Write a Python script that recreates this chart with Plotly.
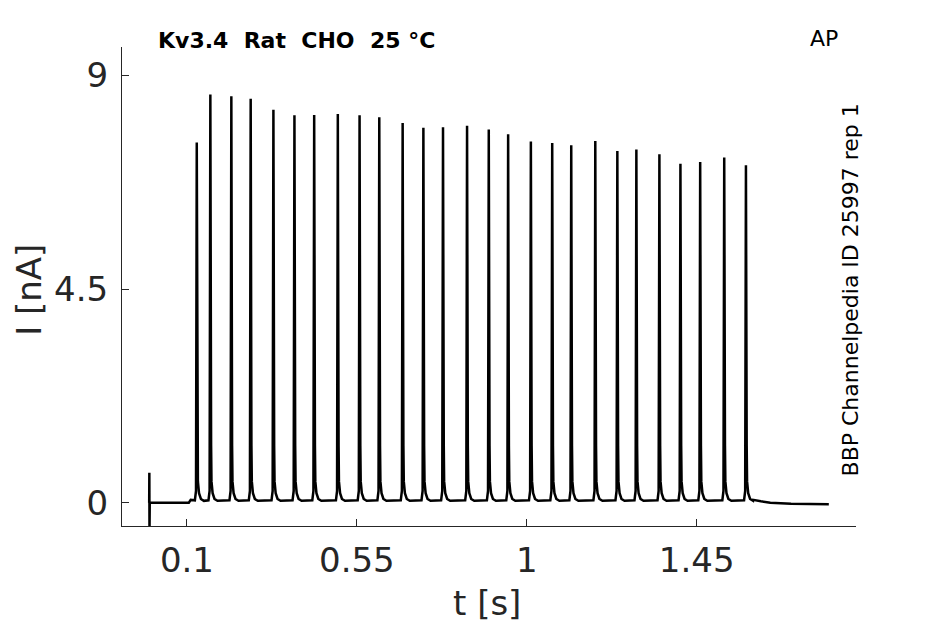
import plotly.graph_objects as go

# spike train: peak times [s] and peak currents [nA]
spike_t = [0.1260, 0.1620, 0.2176, 0.2688, 0.3290, 0.3847, 0.4370, 0.4996, 0.5572,
           0.6094, 0.6713, 0.7262, 0.7782, 0.8419, 0.8994, 0.9507, 1.0109, 1.0674,
           1.1178, 1.1815, 1.2399, 1.2903, 1.3513, 1.4070, 1.4593, 1.5230, 1.5805]
spike_peak = [7.59, 8.60, 8.56, 8.51, 8.28, 8.16, 8.17, 8.19, 8.16,
              8.12, 8.00, 7.90, 7.91, 7.94, 7.86, 7.76, 7.61, 7.58,
              7.53, 7.62, 7.41, 7.44, 7.34, 7.14, 7.18, 7.27, 7.11]

# shape around each peak (offset in s, current in nA; None = the peak itself)
shape_dt = [-0.005, -0.002, 0.0, 0.002, 0.003, 0.006, 0.011, 0.019]
shape_i = [0.05, 0.25, None, 1.2, 0.45, 0.20, 0.08, 0.04]

# holding period before the train (with the capacitive artefact) and after it
pre_t = [0.0, 0.0004, 0.0008, 0.0015, 0.105, 0.110]
pre_i = [0.0, 0.63, -0.62, 0.0, 0.0, 0.06]
post_t = [1.600, 1.620, 1.645, 1.700, 1.800]
post_i = [0.06, 0.03, 0.0, -0.02, -0.03]

xticks = [0.1, 0.55, 1, 1.45]
xticklabels = ['0.1', '0.55', '1', '1.45']
yticks = [0, 4.5, 9]
yticklabels = ['0', '4.5', '9']

t = list(pre_t)
cur = list(pre_i)
for ts, pk in zip(spike_t, spike_peak):
    for dt, val in zip(shape_dt, shape_i):
        t.append(ts + dt)
        cur.append(pk if val is None else val)
t += post_t
cur += post_i

font = 'DejaVu Sans'
grey = '#262626'

fig = go.Figure(go.Scatter(x=t, y=cur, mode='lines',
                           line=dict(color='black', width=2.5),
                           hoverinfo='skip', showlegend=False))

# page has an 8px body margin, so the figure is a bit smaller than the window
fig.update_layout(
    width=937, height=616,
    margin=dict(l=114, r=89, t=39, b=98),
    paper_bgcolor='white', plot_bgcolor='white',
    font=dict(family=font, color=grey),
    xaxis=dict(range=[-0.072, 1.872], tickvals=xticks, ticktext=xticklabels,
               showgrid=False, zeroline=False, showline=True, linecolor=grey,
               linewidth=1, ticks='inside', ticklen=7, tickcolor=grey,
               tickfont=dict(size=34, color=grey), ticklabelstandoff=4),
    yaxis=dict(range=[-0.49, 9.6], tickvals=yticks, ticktext=yticklabels,
               showgrid=False, zeroline=False, showline=True, linecolor=grey,
               linewidth=1, ticks='inside', ticklen=7, tickcolor=grey,
               tickfont=dict(size=34, color=grey), ticklabelstandoff=6),
)

fig.add_annotation(text='<b>Kv3.4  Rat  CHO  25 °C</b>', xref='paper', yref='paper',
                   x=0.0465, y=1.014, xanchor='left', yanchor='middle',
                   showarrow=False, font=dict(size=22, color='black'))
fig.add_annotation(text='AP', xref='paper', yref='paper', x=0.978, y=1.018,
                   xanchor='right', yanchor='middle', showarrow=False,
                   font=dict(size=22, color='black'))
fig.add_annotation(text='BBP Channelpedia ID 25997 rep 1', xref='paper', yref='paper',
                   x=0.992, y=0.492, textangle=-90, xanchor='center', yanchor='middle',
                   showarrow=False, font=dict(size=22, color='black'))
fig.add_annotation(text='I [nA]', xref='paper', yref='paper', x=-0.126, y=0.492,
                   textangle=-90, xanchor='center', yanchor='middle',
                   showarrow=False, font=dict(size=34, color=grey))
fig.add_annotation(text='t [s]', xref='paper', yref='paper', x=0.497, y=-0.161,
                   xanchor='center', yanchor='middle', showarrow=False,
                   font=dict(size=34, color=grey))

fig.write_html('out.html')
